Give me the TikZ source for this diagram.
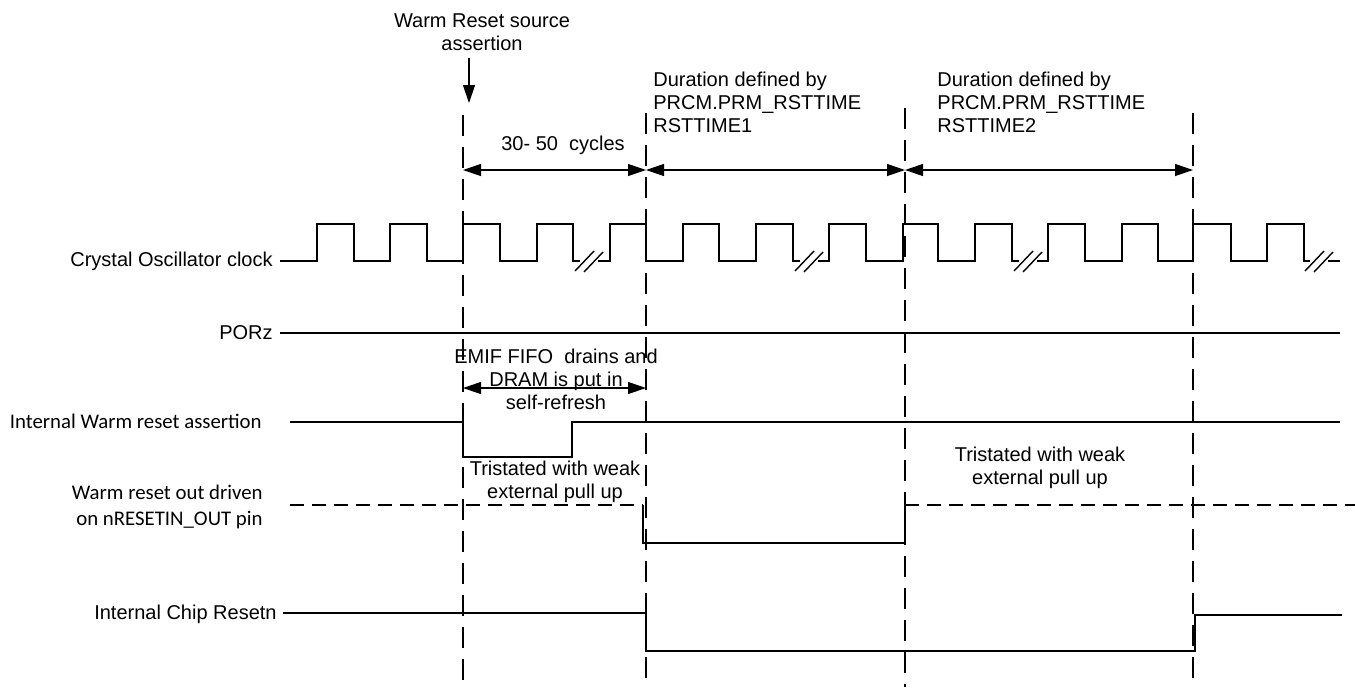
\documentclass[tikz,border=0pt]{standalone}
\usepackage{fontspec}
\setmainfont{Liberation Sans}
\newfontfamily\calfont{Carlito}
\usetikzlibrary{arrows.meta}

\begin{document}
\begin{tikzpicture}[
    x=0.5pt, y=-0.5pt,
    txt/.style={font=\fontsize{10}{11.5}\selectfont, inner sep=0pt},
    siglabel/.style={txt, anchor=base east},
    note/.style={txt, align=center},
    boundary/.style={line width=1.4pt, dash pattern=on 10.5pt off 5.5pt},
    signal/.style={line width=0.7pt},
    weak/.style={line width=1.1pt, dash pattern=on 7pt off 4pt},
    span/.style={{Triangle[length=9pt,width=6pt]}-{Triangle[length=9pt,width=6pt]}, line width=0.6pt},
    pointer/.style={-{Triangle[length=9pt,width=6pt]}, line width=0.6pt}
]
\useasboundingbox (0,0) rectangle (1355,687);

% phase boundaries
\foreach \x/\t in {463/115, 646/113, 905/108, 1193/113}
  \draw[boundary] (\x,\t) -- (\x,687);

% reset source
\node[note] (src) at (482,32) {Warm Reset source\\assertion};
\coordinate (srcfoot) at (469,58);
\coordinate (srctip) at (469,103);
\draw[pointer] (srcfoot) -- (srctip);

% phase spans
\coordinate (p1) at (463,170);
\coordinate (p2) at (646,170);
\coordinate (p3) at (905,170);
\coordinate (p4) at (1193,170);
\draw[span] (p1) -- (p2);
\draw[span] (p2) -- (p3);
\draw[span] (p3) -- (p4);
\node[txt] (cyc) at (563,145) {30- 50\ \ cycles};
\node[txt, align=left, anchor=north west] (rst1) at (653,72) {Duration defined by\\PRCM.PRM\_RSTTIME\\RSTTIME1};
\node[txt, align=left, anchor=north west] (rst2) at (937,72) {Duration defined by\\PRCM.PRM\_RSTTIME\\RSTTIME2};

% crystal oscillator clock
\node[siglabel] (clk) at (273,266) {Crystal Oscillator clock};
\draw[signal] (280,261)
  \foreach \r/\f in {317/354, 390/427, 463/500, 537/573} { -- (\r,261) -- (\r,224) -- (\f,224) -- (\f,261) } -- (580,261);
\draw[signal] (598,261)
  \foreach \r/\f in {610/646, 683/719, 756/793} { -- (\r,261) -- (\r,224) -- (\f,224) -- (\f,261) } -- (800,261);
\draw[signal] (818,261)
  \foreach \r/\f in {829/866, 903/938, 975/1012} { -- (\r,261) -- (\r,224) -- (\f,224) -- (\f,261) } -- (1019,261);
\draw[signal] (1037,261)
  \foreach \r/\f in {1048/1085, 1122/1158, 1193/1231, 1267/1304} { -- (\r,261) -- (\r,224) -- (\f,224) -- (\f,261) } -- (1310,261);
\draw[signal] (1328,261) -- (1340,261);
\foreach \m in {589, 809, 1028, 1319} {
  \draw[signal] (\m-14,271) -- (\m+5,251);
  \draw[signal] (\m-5,272) -- (\m+14,252);
}

% PORz
\node[siglabel] (por) at (273,339) {PORz};
\draw[signal] (280,333) -- (1340,333);

% internal warm reset
\node[note] (emif) at (556,379) {EMIF FIFO\ \ drains and\\DRAM is put in\\self-refresh};
\coordinate (e1) at (463,388);
\coordinate (e2) at (646,388);
\draw[span] (e1) -- (e2);
\node[siglabel, font=\calfont\fontsize{10.4}{12}\selectfont] (iwr) at (262,428) {Internal Warm reset assertion};
\draw[signal] (290,422) -- (463,422) -- (463,457) -- (572,457) -- (572,422) -- (1340,422);

% nRESETIN_OUT
\node[txt, font=\calfont\fontsize{10.4}{13}\selectfont, align=right, anchor=east] (wro) at (263,507) {Warm reset out driven\\on nRESETIN\_OUT pin};
\node[note] (tri1) at (555,482) {Tristated with weak\\external pull up};
\node[note] (tri2) at (1040,468) {Tristated with weak\\external pull up};
\draw[weak] (290,505) -- (643,505);
\draw[signal] (643,505) -- (643,543) -- (905,543) -- (905,505);
\draw[weak] (905,505) -- (1355,505);

% internal chip reset
\node[siglabel] (icr) at (277,619) {Internal Chip Resetn};
\draw[signal] (283,613) -- (646,613) -- (646,651) -- (1195,651) -- (1195,615) -- (1342,615);
\end{tikzpicture}
\end{document}
